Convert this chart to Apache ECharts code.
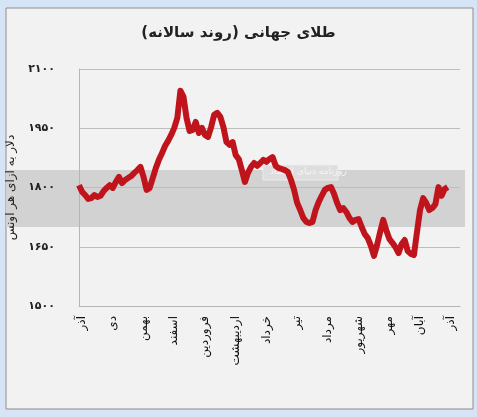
<!DOCTYPE html>
<html>
<head>
<meta charset="utf-8">
<script src="https://cdn.jsdelivr.net/npm/echarts@6/dist/echarts.min.js"></script>
<style>
  html, body { margin: 0; padding: 0; background: #d5e5f5; }
  #chart { width: 477px; height: 417px; }
</style>
</head>
<body>
<div id="chart"></div>
<script>
// month labels along the x axis (one every ~10 points)
var months = ['آذر', 'دی', 'بهمن', 'اسفند', 'فروردین', 'اردیبهشت', 'خرداد', 'تیر', 'مرداد', 'شهریور', 'مهر', 'آبان', 'آذر'];
var yTicks = [1500, 1650, 1800, 1950, 2100];
// gold price, dollars per ounce
var prices = [
    1806, 1789, 1781, 1771, 1773, 1781, 1776, 1779, 1791, 1799,
    1806, 1799, 1814, 1827, 1811, 1819, 1824, 1829, 1837, 1844,
    1852, 1827, 1794, 1799, 1824, 1849, 1870, 1887, 1905, 1918,
    1933, 1951, 1976, 2045, 2030, 1976, 1943, 1946, 1966, 1938,
    1951, 1933, 1928, 1953, 1984, 1989, 1979, 1953, 1915, 1908,
    1915, 1882, 1872, 1844, 1814, 1837, 1852, 1862, 1855, 1862,
    1870, 1865, 1872, 1877, 1855, 1849, 1847, 1844, 1839, 1819,
    1794, 1761, 1743, 1723, 1713, 1710, 1713, 1743, 1763, 1779,
    1794, 1799, 1801, 1784, 1761, 1743, 1748, 1738, 1723, 1713,
    1718, 1720, 1700, 1682, 1672, 1652, 1627, 1654, 1687, 1718,
    1692, 1670, 1660, 1649, 1634, 1657, 1667, 1639, 1632, 1629,
    1687, 1743, 1773, 1761, 1743, 1748, 1758, 1801, 1779, 1796,
    1801, null, null, null, null
];
var perMonth = 10, firstMonth = 1;

var faDigits = '۰۱۲۳۴۵۶۷۸۹';
function toFa(n) {
    return String(n).replace(/\d/g, function (d) { return faDigits[+d]; });
}

var categories = prices.map(function (v, i) {
    var k = (i - firstMonth) / perMonth;
    return (i >= firstMonth && k % 1 === 0 && k < months.length) ? months[k] : '';
});

var font = 'DejaVu Sans';
var chart = echarts.init(document.getElementById('chart'));
var option = {
    backgroundColor: '#d5e5f5',
    animation: false,
    textStyle: { fontFamily: font },
    graphic: [
        { type: 'rect', z: -10, shape: { x: 6, y: 8, width: 467, height: 401 },
          style: { fill: '#f2f2f2', stroke: '#8c8c8c', lineWidth: 1 } },
        { type: 'rect', z: -9, shape: { x: 6, y: 170, width: 459, height: 57 },
          style: { fill: '#d2d2d2' } },
        { type: 'rect', z: -8, shape: { x: 263, y: 165, width: 75, height: 15 },
          style: { fill: '#dedede', stroke: '#ececec' } },
        { type: 'text', z: -7, left: 270, top: 167,
          style: { text: 'روزنامه دنیای اقتصاد', fill: '#f5f5f5', font: '9px DejaVu Sans' } }
    ],
    title: {
        text: 'طلای جهانی (روند سالانه)',
        left: 'center',
        top: 21,
        textStyle: { fontFamily: font, fontSize: 15, fontWeight: 'bold', color: '#222' }
    },
    grid: { left: 79, right: 17, top: 69, bottom: 111, outerBoundsMode: 'none' },
    xAxis: {
        type: 'category',
        data: categories,
        boundaryGap: false,
        axisLine: { lineStyle: { color: '#b5b5b5' } },
        axisTick: { show: false },
        axisLabel: {
            interval: function (i, v) { return v !== ''; },
            rotate: 90,
            margin: 10,
            color: '#111',
            fontFamily: font,
            fontSize: 12
        }
    },
    yAxis: {
        type: 'value',
        min: yTicks[0],
        max: yTicks[yTicks.length - 1],
        interval: 150,
        name: 'دلار به ازای هر اونس',
        nameLocation: 'middle',
        nameRotate: 90,
        nameGap: 62,
        nameTextStyle: { fontFamily: font, fontSize: 12, color: '#222' },
        axisLine: { show: true, lineStyle: { color: '#b5b5b5' } },
        axisTick: { show: false },
        splitLine: { lineStyle: { color: '#bdbdbd' } },
        axisLabel: {
            margin: 24,
            color: '#222',
            fontFamily: font,
            fontSize: 11,
            fontWeight: 'bold',
            formatter: function (v) { return toFa(v); }
        }
    },
    series: [{
        type: 'line',
        data: prices,
        showSymbol: false,
        lineStyle: { color: '#c0141d', width: 6, join: 'round' },
        itemStyle: { color: '#c0141d' }
    }]
};
chart.setOption(option);
</script>
</body>
</html>
